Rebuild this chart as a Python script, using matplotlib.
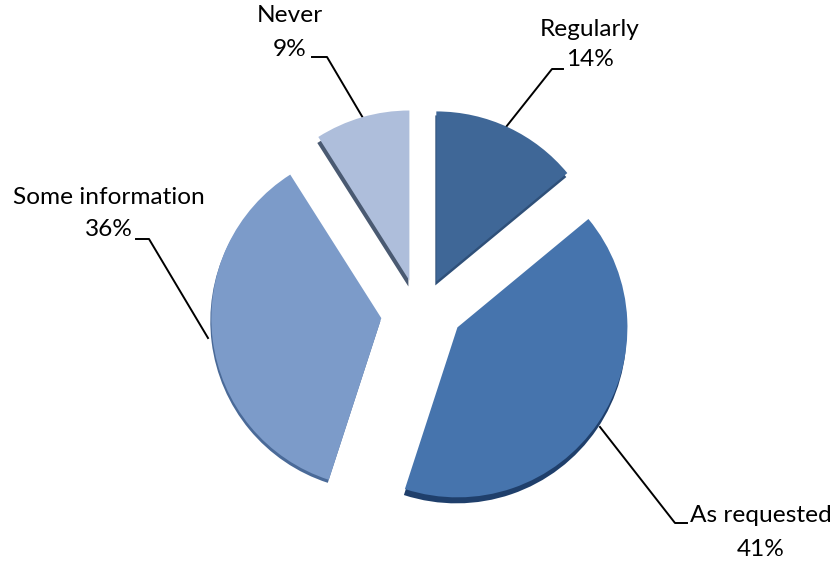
import matplotlib
matplotlib.use('Agg')
import matplotlib.pyplot as plt

plt.rcParams['font.family'] = ['Lato', 'DejaVu Sans']

# values, clockwise from the top
labels = ['Regularly', 'As requested', 'Some information', 'Never']
shares = [14, 41, 36, 9]
colors = ['#3F6797', '#4674AD', '#7C9BC9', '#AEBEDB']
side_colors = ['#2F5079', '#1F3F6B', '#4A6A98', '#4A5A72']
# pie adds explode straight to the center, so these are in data units
explode = [36, 38, 41, 38]

fig = plt.figure(figsize=(8.35, 5.63), dpi=100)
ax = fig.add_axes([0, 0, 1, 1])

# darker copy underneath gives the thick edge
side, _ = ax.pie(shares, explode=explode, colors=side_colors, startangle=90,
                 counterclock=False, radius=170, center=(421, 250), frame=True)
top, _ = ax.pie(shares, explode=explode, colors=colors, startangle=90,
                counterclock=False, radius=170, center=(421, 250), frame=True)

# small nudges, the original is a tilted 3D pie
nudge = [(0, -1), (5, 7), (1, 0), (-1, -4)]
depth = [4, 6, 3, 6]
for i in range(4):
    cx, cy = top[i].center
    cx += nudge[i][0]
    cy += nudge[i][1]
    top[i].set_center((cx, cy))
    side[i].set_center((cx - 1, cy - depth[i]))
    top[i].set_zorder(3)
    side[i].set_zorder(2)

ax.set_xlim(0, 835)
ax.set_ylim(0, 563)
ax.set_aspect('equal')
ax.set_axis_off()

# leader lines
ax.plot([363, 327, 312], [563 - 118, 563 - 57, 563 - 57], color='black', lw=1.4, zorder=1)
ax.plot([506, 552, 563], [563 - 127, 563 - 69, 563 - 69], color='black', lw=1.4, zorder=1)
ax.plot([208, 149, 136], [563 - 338, 563 - 239, 563 - 239], color='black', lw=1.4, zorder=1)
ax.plot([600, 675, 687], [563 - 427, 563 - 523, 563 - 523], color='black', lw=1.4, zorder=1)

fs = 17.6
ax.text(290, 563 - 16, 'Never', ha='center', va='center', fontsize=fs)
ax.text(290, 563 - 49, '9%', ha='center', va='center', fontsize=fs)
ax.text(590, 563 - 29, 'Regularly', ha='center', va='center', fontsize=fs)
ax.text(590, 563 - 60, '14%', ha='center', va='center', fontsize=fs)
ax.text(109, 563 - 198, 'Some information', ha='center', va='center', fontsize=fs)
ax.text(109, 563 - 230, '36%', ha='center', va='center', fontsize=fs)
ax.text(761, 563 - 515, 'As requested', ha='center', va='center', fontsize=fs)
ax.text(761, 563 - 549, '41%', ha='center', va='center', fontsize=fs)

fig.savefig('out.png', dpi=100)
